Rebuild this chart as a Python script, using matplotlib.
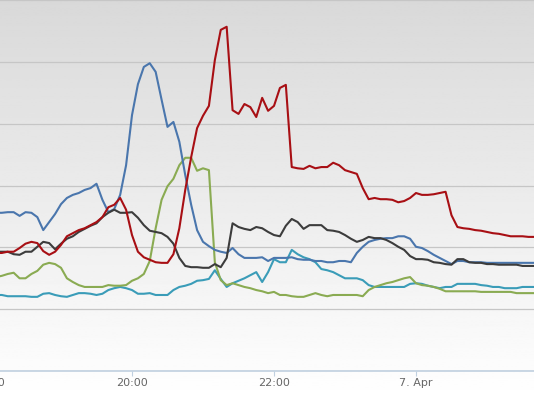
import matplotlib
matplotlib.use("Agg")
import matplotlib.pyplot as plt
import numpy as np
import pandas as pd

# 5 minute readings, 6 Apr 18:05 -> 7 Apr 01:40
times = pd.date_range("2013-04-06 18:05", periods=92, freq="5min")

red = [19.1, 19.1, 19.3, 19.3, 19.9, 20.6, 20.9, 20.7, 19.4, 18.8,
       19.3, 20.4, 21.8, 22.3, 22.8, 23.1, 23.6, 24.1, 24.9, 26.5,
       26.9, 28.0, 26.1, 22.0, 19.3, 18.4, 18.0, 17.6, 17.5, 17.5,
       18.9, 23.1, 29.3, 34.6, 39.3, 41.3, 42.9, 50.3, 55.2, 55.7,
       42.2, 41.6, 43.2, 42.7, 41.1, 44.2, 42.1, 42.9, 45.8, 46.3,
       33.0, 32.8, 32.7, 33.2, 32.8, 33.0, 33.0, 33.7, 33.3, 32.5,
       32.2, 31.9, 29.6, 27.8, 28.0, 27.8, 27.8, 27.7, 27.3, 27.5,
       28.0, 28.8, 28.5, 28.5, 28.6, 28.8, 29.0, 25.2, 23.3, 23.1,
       23.0, 22.8, 22.7, 22.5, 22.3, 22.2, 22.0, 21.8, 21.8, 21.8,
       21.7, 21.7]

blue = [25.6, 25.6, 25.7, 25.7, 25.1, 25.7, 25.6, 24.9, 22.8, 24.1,
        25.4, 27.0, 28.0, 28.5, 28.8, 29.3, 29.6, 30.3, 27.7, 25.7,
        26.2, 28.5, 33.3, 41.4, 46.4, 49.2, 49.8, 48.4, 43.9, 39.5,
        40.3, 37.1, 31.7, 26.9, 22.8, 20.9, 20.2, 19.6, 19.3, 19.1,
        19.9, 18.9, 18.3, 18.3, 18.3, 18.4, 17.8, 18.3, 18.3, 18.3,
        18.4, 18.1, 18.0, 18.0, 17.8, 17.8, 17.6, 17.6, 17.8, 17.8,
        17.6, 19.1, 20.1, 20.9, 21.2, 21.4, 21.5, 21.5, 21.8, 21.8,
        21.4, 20.1, 19.9, 19.4, 18.8, 18.3, 17.8, 17.3, 17.8, 17.8,
        17.6, 17.6, 17.6, 17.5, 17.5, 17.5, 17.5, 17.5, 17.5, 17.5,
        17.5, 17.5]

green = [15.2, 15.4, 15.7, 15.9, 15.0, 15.0, 15.7, 16.2, 17.2, 17.5,
         17.3, 16.7, 15.0, 14.4, 13.9, 13.6, 13.6, 13.6, 13.6, 13.9,
         13.8, 13.8, 13.9, 14.6, 15.0, 15.7, 17.8, 23.1, 27.7, 29.9,
         31.1, 33.3, 34.5, 34.5, 32.4, 32.8, 32.5, 17.6, 14.7, 13.9,
         14.2, 13.9, 13.6, 13.4, 13.1, 12.9, 12.6, 12.8, 12.3, 12.3,
         12.1, 12.0, 12.0, 12.3, 12.6, 12.3, 12.1, 12.3, 12.3, 12.3,
         12.3, 12.3, 12.1, 13.1, 13.6, 13.9, 14.2, 14.4, 14.7, 15.0,
         15.2, 14.2, 13.9, 13.8, 13.6, 13.3, 12.9, 12.9, 12.9, 12.9,
         12.9, 12.9, 12.8, 12.8, 12.8, 12.8, 12.8, 12.8, 12.6, 12.6,
         12.6, 12.6]

teal = [12.3, 12.3, 12.1, 12.1, 12.1, 12.1, 12.0, 12.0, 12.5, 12.6,
        12.3, 12.1, 12.0, 12.3, 12.6, 12.6, 12.5, 12.3, 12.5, 13.1,
        13.4, 13.6, 13.4, 13.1, 12.5, 12.5, 12.6, 12.3, 12.3, 12.3,
        13.1, 13.6, 13.8, 14.1, 14.6, 14.7, 14.9, 16.3, 14.9, 13.6,
        14.2, 14.6, 15.0, 15.5, 16.0, 14.4, 16.0, 18.1, 17.6, 17.6,
        19.6, 18.9, 18.4, 18.1, 17.6, 16.5, 16.3, 16.0, 15.5, 15.0,
        15.0, 15.0, 14.7, 13.9, 13.6, 13.6, 13.6, 13.6, 13.6, 13.6,
        14.1, 14.2, 14.1, 13.8, 13.6, 13.4, 13.6, 13.6, 14.1, 14.1,
        14.1, 14.1, 13.9, 13.8, 13.6, 13.6, 13.4, 13.4, 13.4, 13.6,
        13.6, 13.6]

black = [19.3, 19.3, 19.3, 18.9, 18.8, 19.3, 19.3, 20.1, 20.9, 20.7,
         19.7, 20.6, 21.4, 21.8, 22.5, 23.0, 23.5, 23.9, 24.9, 25.6,
         26.1, 25.6, 25.6, 25.7, 24.8, 23.6, 22.7, 22.5, 22.3, 21.7,
         20.6, 18.3, 17.0, 16.8, 16.8, 16.7, 16.7, 17.3, 16.8, 18.3,
         23.9, 23.3, 23.0, 22.8, 23.3, 23.1, 22.5, 22.0, 21.8, 23.5,
         24.6, 24.1, 23.0, 23.6, 23.6, 23.6, 22.8, 22.7, 22.5, 22.0,
         21.4, 20.9, 21.2, 21.7, 21.5, 21.5, 21.2, 20.7, 20.1, 19.6,
         18.6, 18.1, 18.1, 18.0, 17.6, 17.5, 17.3, 17.2, 18.1, 18.1,
         17.6, 17.5, 17.5, 17.3, 17.3, 17.2, 17.2, 17.2, 17.2, 17.0,
         17.0, 17.0]

tick_times = pd.to_datetime(["2013-04-06 18:00", "2013-04-06 20:00",
                             "2013-04-06 22:00", "2013-04-07 00:00"])
tick_labels = ["18:00", "20:00", "22:00", "7. Apr"]

fig = plt.figure(figsize=(5.34, 4), dpi=100)

# gradient plot background
bg = fig.add_axes([0, 0, 1, 1], zorder=0)
grad = np.linspace(0.85, 1.0, 256).reshape(-1, 1)
bg.imshow(grad, aspect="auto", cmap="gray", vmin=0, vmax=1,
          extent=[0, 1, 0, 1], origin="upper")
bg.axis("off")

# plot area is wider/taller than the picture (cropped chart)
ax = fig.add_axes([-20 / 534, 29 / 400, 564 / 534, 391 / 400], zorder=1)
ax.patch.set_alpha(0)

ax.plot(times, teal, color="#3a9cb8", lw=1.5)
ax.plot(times, green, color="#8aab52", lw=1.5)
ax.plot(times, blue, color="#4a76ad", lw=1.5)
ax.plot(times, black, color="#3c3c3c", lw=1.5)
ax.plot(times, red, color="#a80f14", lw=1.5)

t20 = pd.Timestamp("2013-04-06 20:00")
ax.set_xlim(t20 - pd.Timedelta(hours=152 / 71), t20 + pd.Timedelta(hours=412 / 71))
ax.set_ylim(0, 391 / 6.18)

ax.set_yticks(np.arange(0, 70, 10))
ax.yaxis.grid(True, color="#c6c6c6", lw=0.9)
ax.tick_params(axis="y", length=0, labelleft=False)
ax.set_axisbelow(True)

ax.set_xticks(tick_times)
ax.set_xticklabels(tick_labels)
ax.tick_params(axis="x", direction="out", length=3.6, width=0.8,
               color="#c0d0e0", labelcolor="#666666", labelsize=8, pad=1.5)

for side in ["left", "right", "top"]:
    ax.spines[side].set_visible(False)
ax.spines["bottom"].set_color("#c0d0e0")
ax.spines["bottom"].set_linewidth(1.2)

fig.savefig("out.png", dpi=100)
